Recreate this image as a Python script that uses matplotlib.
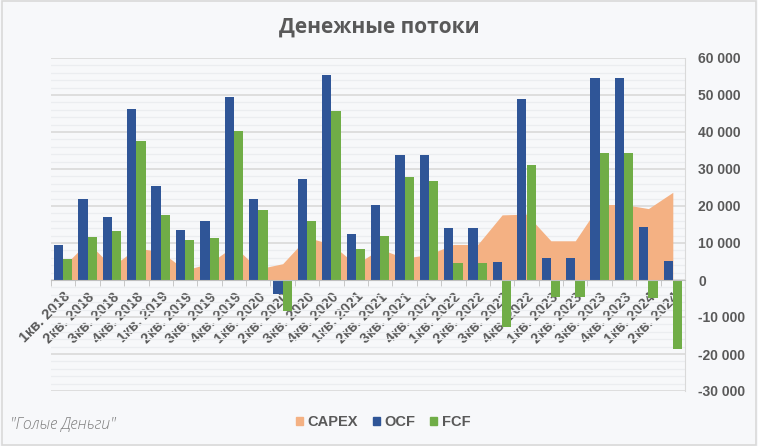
import numpy as np
import matplotlib.pyplot as plt
from matplotlib.ticker import FuncFormatter, MultipleLocator
from matplotlib.patches import Patch

# data
quarters = ['1кв. 2018', '2кв. 2018', '3кв. 2018', '4кв. 2018',
            '1кв. 2019', '2кв. 2019', '3кв. 2019', '4кв. 2019',
            '1кв. 2020', '2кв. 2020', '3кв. 2020', '4кв. 2020',
            '1кв. 2021', '2кв. 2021', '3кв. 2021', '4кв. 2021',
            '1кв. 2022', '2кв. 2022', '3кв. 2022', '4кв. 2022',
            '1кв. 2023', '2кв. 2023', '3кв. 2023', '4кв. 2023',
            '1кв. 2024', '2кв. 2024']
ocf = [9400, 21900, 16900, 46100, 25300, 13500, 15900, 49500,
       21900, -3900, 27400, 55400, 12500, 20300, 33700, 33700,
       14100, 14100, 4800, 48800, 5900, 5900, 54700, 54700,
       14400, 5100]
fcf = [5800, 11600, 13300, 37500, 17600, 10800, 11400, 40300,
       18900, -8300, 15900, 45700, 8300, 11900, 27800, 26800,
       4500, 4500, -12800, 31000, -4700, -4700, 34300, 34300,
       -4900, -18600]
capex = [3600, 10300, 3600, 8600, 7700, 2700, 4500, 9200,
         3000, 4400, 11500, 9700, 4200, 8400, 5900, 6900,
         9600, 9600, 17600, 17800, 10600, 10600, 20400, 20400,
         19300, 23700]

c_capex = '#f4b183'
c_ocf = '#2f5597'
c_fcf = '#70ad47'
c_text = '#595959'
bg = '#f7f8fa'

plt.rcParams['font.family'] = ['Liberation Sans', 'DejaVu Sans']

fig = plt.figure(figsize=(7.58, 4.46), dpi=100, facecolor=bg)
ax = fig.add_axes([51/758, 1-391/446, (685-51)/758, (391-58)/446])
ax.set_facecolor(bg)

x = np.arange(len(quarters))
w = 0.38

# area + bars
ax.fill_between(x, 0, capex, color=c_capex, linewidth=0, zorder=2)
ax.bar(x - w/2, ocf, width=w, color=c_ocf, zorder=3)
ax.bar(x + w/2, fcf, width=w, color=c_fcf, zorder=3)

ax.set_xlim(-0.5, len(quarters) - 0.5)
ax.set_ylim(-30000, 60000)

# grid
ax.yaxis.set_major_locator(MultipleLocator(10000))
ax.yaxis.set_minor_locator(MultipleLocator(2000))
ax.grid(axis='y', which='major', color='#d9d9d9', linewidth=1.2, zorder=0)
ax.grid(axis='y', which='minor', color='#ebedf0', linewidth=0.9, zorder=0)

# value axis on the right
ax.yaxis.tick_right()
ax.yaxis.set_major_formatter(FuncFormatter(lambda v, p: '{:,.0f}'.format(v).replace(',', ' ')))
ax.tick_params(axis='y', which='both', length=0, pad=9.5, labelsize=10, labelcolor=c_text)
for lbl in ax.get_yticklabels():
    lbl.set_fontweight('bold')

# category axis crossing at zero
ax.spines['bottom'].set_position(('data', 0))
ax.spines['bottom'].set_color('#bfbfbf')
ax.spines['bottom'].set_zorder(4)
for s in ['top', 'left']:
    ax.spines[s].set_visible(False)
ax.spines['right'].set_color('#d9d9d9')
ax.set_xticks(x)
ax.set_xticks(np.arange(-0.5, len(quarters), 1), minor=True)
ax.set_xticklabels(quarters, rotation=45, ha='right', va='top', rotation_mode='anchor',
                   fontsize=10.5, fontweight='bold', color=c_text)
ax.tick_params(axis='x', which='major', length=0, pad=7)
ax.tick_params(axis='x', which='minor', length=4, color='#bfbfbf')

# title, legend, signature
fig.text(0.5, 1-27/446, 'Денежные потоки', ha='center', va='center',
         fontsize=15, fontweight='bold', color=c_text, family=['Open Sans', 'DejaVu Sans'])
handles = [Patch(color=c_capex, label='CAPEX'), Patch(color=c_ocf, label='OCF'),
           Patch(color=c_fcf, label='FCF')]
fig.legend(handles=handles, loc='center', bbox_to_anchor=(383/758, 1-422/446), ncol=3,
           frameon=False, handlelength=0.5, handleheight=0.5, handletextpad=0.3,
           columnspacing=1.0, prop={'weight': 'bold', 'size': 10.5}, labelcolor=c_text)
fig.text(10/758, 1-425/446, '"Голые Деньги"', ha='left', va='center', fontsize=11.3,
         style='italic', fontweight='light', color='#7f7f7f', family=['Open Sans', 'DejaVu Sans'])

# light frame round the picture
fig.patches.append(plt.Rectangle((0.002, 0.003), 0.996, 0.994, transform=fig.transFigure,
                                 fill=False, edgecolor='#d9d9d9', linewidth=1.2))

plt.savefig('out.png', dpi=100, facecolor=bg)
